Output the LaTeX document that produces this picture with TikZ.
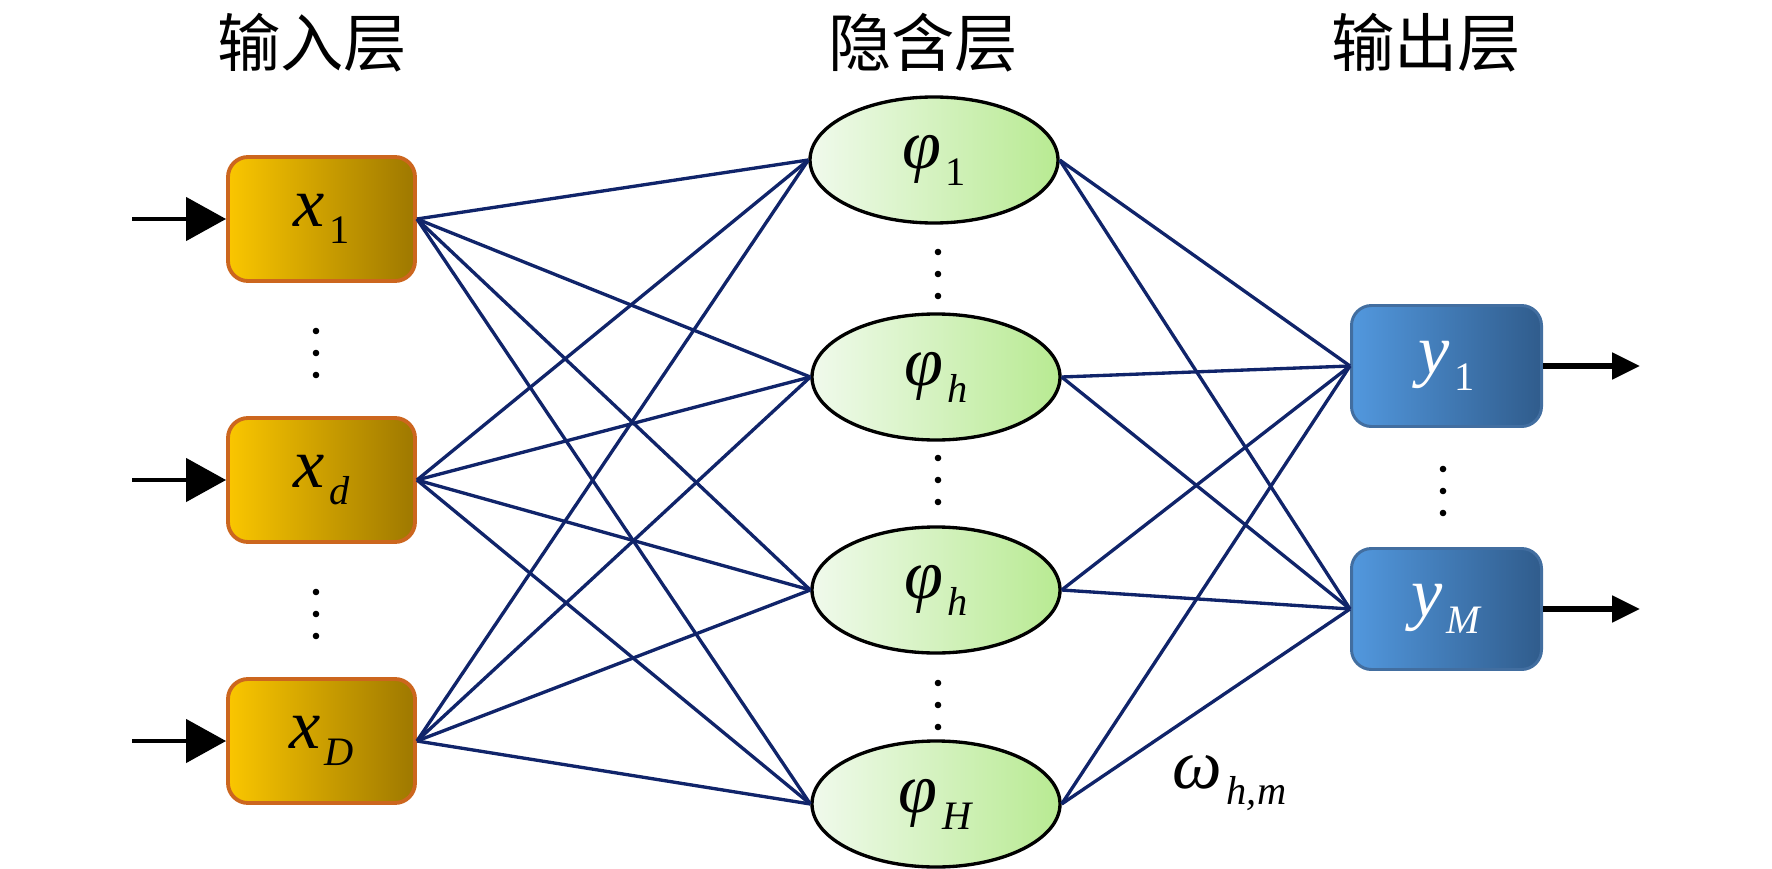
\documentclass[tikz,border=0pt]{standalone}
\usepackage{fontspec}
\setmainfont{Liberation Serif}
\newfontfamily\cjk{Noto Sans CJK SC}
\usepackage{tikz}
\usetikzlibrary{shapes.geometric, arrows.meta, positioning}

\definecolor{inleft}{RGB}{250,198,0}
\definecolor{inright}{RGB}{158,120,0}
\definecolor{inborder}{RGB}{204,102,30}
\definecolor{hidleft}{RGB}{240,250,236}
\definecolor{hidright}{RGB}{184,234,146}
\definecolor{outleft}{RGB}{82,152,222}
\definecolor{outright}{RGB}{48,92,140}
\definecolor{outborder}{RGB}{66,110,160}
\definecolor{linkcol}{RGB}{16,36,106}

\newcommand{\lab}[2]{\textit{#1}\kern0.06em\raisebox{-0.24em}{\fontsize{23}{23}\selectfont #2}}

\begin{document}
\begin{tikzpicture}[
    inbox/.style={draw=inborder, line width=2.2pt, rounded corners=0.4cm, left color=inleft, right color=inright,
      minimum width=3.74cm, minimum height=2.48cm, font=\fontsize{40}{46}\selectfont},
    hidnode/.style={ellipse, draw, line width=1.9pt, left color=hidleft, right color=hidright,
      minimum width=4.96cm, minimum height=2.52cm, font=\fontsize{40}{46}\selectfont},
    outbox/.style={draw=outborder, line width=1.7pt, rounded corners=0.4cm, left color=outleft, right color=outright,
      minimum width=3.8cm, minimum height=2.42cm, text=white, font=\fontsize{40}{46}\selectfont},
    link/.style={draw=linkcol, line width=1.9pt},
    title/.style={font=\cjk\fontsize{36}{40}\selectfont}
  ]
  \useasboundingbox (0,0) rectangle (35.44,-17.38);

  % Layer titles
  \node[title] (tin) at (6.24,-0.86) {输入层};
  \node[title] (thid) at (18.46,-0.86) {隐含层};
  \node[title] (tout) at (28.52,-0.86) {输出层};

  % Input layer
  \node[inbox] (x1) at (6.43,-4.38) {\lab{x}{1}};
  \node[inbox] (xd) at (6.43,-9.60) {\lab{x}{\textit{d}}};
  \node[inbox] (xD) at (6.43,-14.82) {\lab{x}{\textit{D}}};

  % Hidden layer
  \node[hidnode] (h1) at (18.68,-3.20) {\lab{φ}{1}};
  \node[hidnode] (h2) at (18.72,-7.54) {\lab{φ}{\textit{h}}};
  \node[hidnode] (h3) at (18.72,-11.80) {\lab{φ}{\textit{h}}};
  \node[hidnode] (h4) at (18.72,-16.08) {\lab{φ}{\textit{H}}};

  % Output layer
  \node[outbox] (y1) at (28.93,-7.32) {\lab{y}{1}};
  \node[outbox] (yM) at (28.93,-12.18) {\lab{y}{\textit{M}}};

  % Weight label
  \node[anchor=base west, inner sep=0pt, font=\fontsize{40}{46}\selectfont] (w) at (23.45,-15.76) {\lab{ω}{\textit{h,m}}};

  % Free ends of the in/out arrows
  \coordinate (a1) at (2.64,-4.38);
  \coordinate (ad) at (2.64,-9.60);
  \coordinate (aD) at (2.64,-14.82);
  \coordinate (b1) at (32.8,-7.32);
  \coordinate (bM) at (32.8,-12.18);

  % Arrows
  \foreach \s/\t in {a1/x1, ad/xd, aD/xD}
    \draw[-{Triangle[length=0.8cm, width=0.86cm]}, line width=2.6pt] (\s) -- (\t.west);
  \foreach \s/\t in {y1/b1, yM/bM}
    \draw[-{Triangle[length=0.56cm, width=0.52cm]}, line width=2.9pt] (\s.east) -- (\t);

  % Connections
  \foreach \i in {x1,xd,xD}
    \foreach \j in {h1,h2,h3,h4}
      \draw[link] (\i.east) -- (\j.west);
  \foreach \j in {h1,h2,h3,h4}
    \foreach \k in {y1,yM}
      \draw[link] (\j.east) -- (\k.west);

  % Dots
  \foreach \cx/\cy in {6.32/-7.06, 6.32/-12.28, 18.76/-5.48, 18.76/-9.60, 18.76/-14.10, 28.86/-9.82}
    \foreach \d in {-0.44,0,0.44}
      \fill (\cx,\cy+\d) circle (0.066);
\end{tikzpicture}
\end{document}
